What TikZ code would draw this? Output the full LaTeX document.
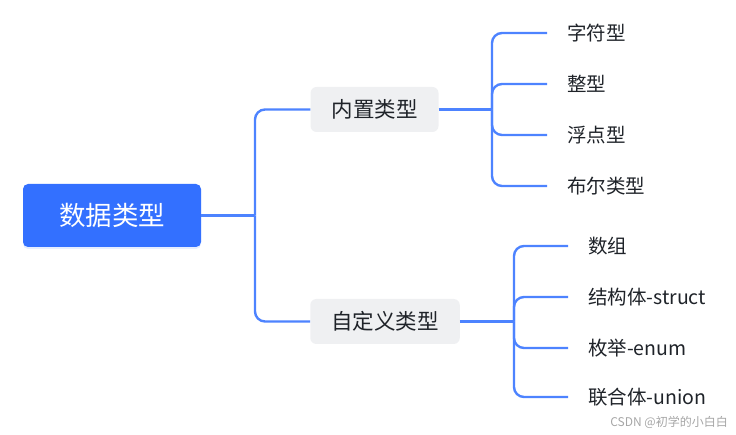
\documentclass[tikz,border=0pt]{standalone}
\usepackage{fontspec}
\setmainfont{Noto Sans CJK SC}
\usetikzlibrary{shadows}
\definecolor{rootblue}{HTML}{3370FF}
\definecolor{boxgray}{HTML}{EFF0F2}
\definecolor{linkblue}{HTML}{4D83FF}
\definecolor{txt}{HTML}{1F2329}
\tikzset{
  rootbox/.style={fill=rootblue, text=white, rounded corners=5pt, minimum width=178pt, minimum height=63pt, inner sep=0pt, font=\fontsize{26.5}{30}\selectfont, drop shadow={opacity=0.12, shadow xshift=0pt, shadow yshift=-2pt, fill=rootblue}},
  midbox/.style={fill=boxgray, text=txt, rounded corners=6pt, inner xsep=21pt, inner ysep=0pt, minimum height=45pt, font=\fontsize{21.5}{24}\selectfont},
  leaf/.style={anchor=west, inner sep=0pt, text=txt, font=\fontsize{19.5}{22}\selectfont},
  conn/.style={draw=linkblue, line width=2.4pt, rounded corners=10pt},
  leafconn/.style={conn, shorten >=20pt},
}
\begin{document}
\begin{tikzpicture}[x=1pt, y=-1pt]
\useasboundingbox (0,0) rectangle (736,435);
\node[rootbox] (root) at (112,215.5) {数据类型};
\node[midbox] (builtin) at (374.5,109.5) {内置类型};
\node[midbox] (custom) at (385,321.5) {自定义类型};
\coordinate (j1) at (255,215.5);
\coordinate (j2) at (492,109.5);
\coordinate (j3) at (514,321.5);
\node[leaf] (b1) at (567,33) {字符型};
\node[leaf] (b2) at (567,84) {整型};
\node[leaf] (b3) at (567,135) {浮点型};
\node[leaf] (b4) at (567,186) {布尔类型};
\node[leaf] (c1) at (588,246) {数组};
\node[leaf] (c2) at (588,297) {结构体-struct};
\node[leaf] (c3) at (588,348) {枚举-enum};
\node[leaf] (c4) at (588,397) {联合体-union};
\draw[conn] (root.east) -- (j1);
\draw[conn] (j1) |- (builtin.west);
\draw[conn] (j1) |- (custom.west);
\draw[conn] (builtin.east) -- (j2);
\draw[conn] (custom.east) -- (j3);
\foreach \n in {b1,b2,b3,b4} \draw[leafconn] (j2) |- (\n.west);
\foreach \n in {c1,c2,c3,c4} \draw[leafconn] (j3) |- (\n.west);
\node[anchor=east, inner sep=0pt, text=gray!70, font=\fontsize{12}{14}\selectfont] (wm) at (728,422) {CSDN @初学的小白白};
\end{tikzpicture}
\end{document}
